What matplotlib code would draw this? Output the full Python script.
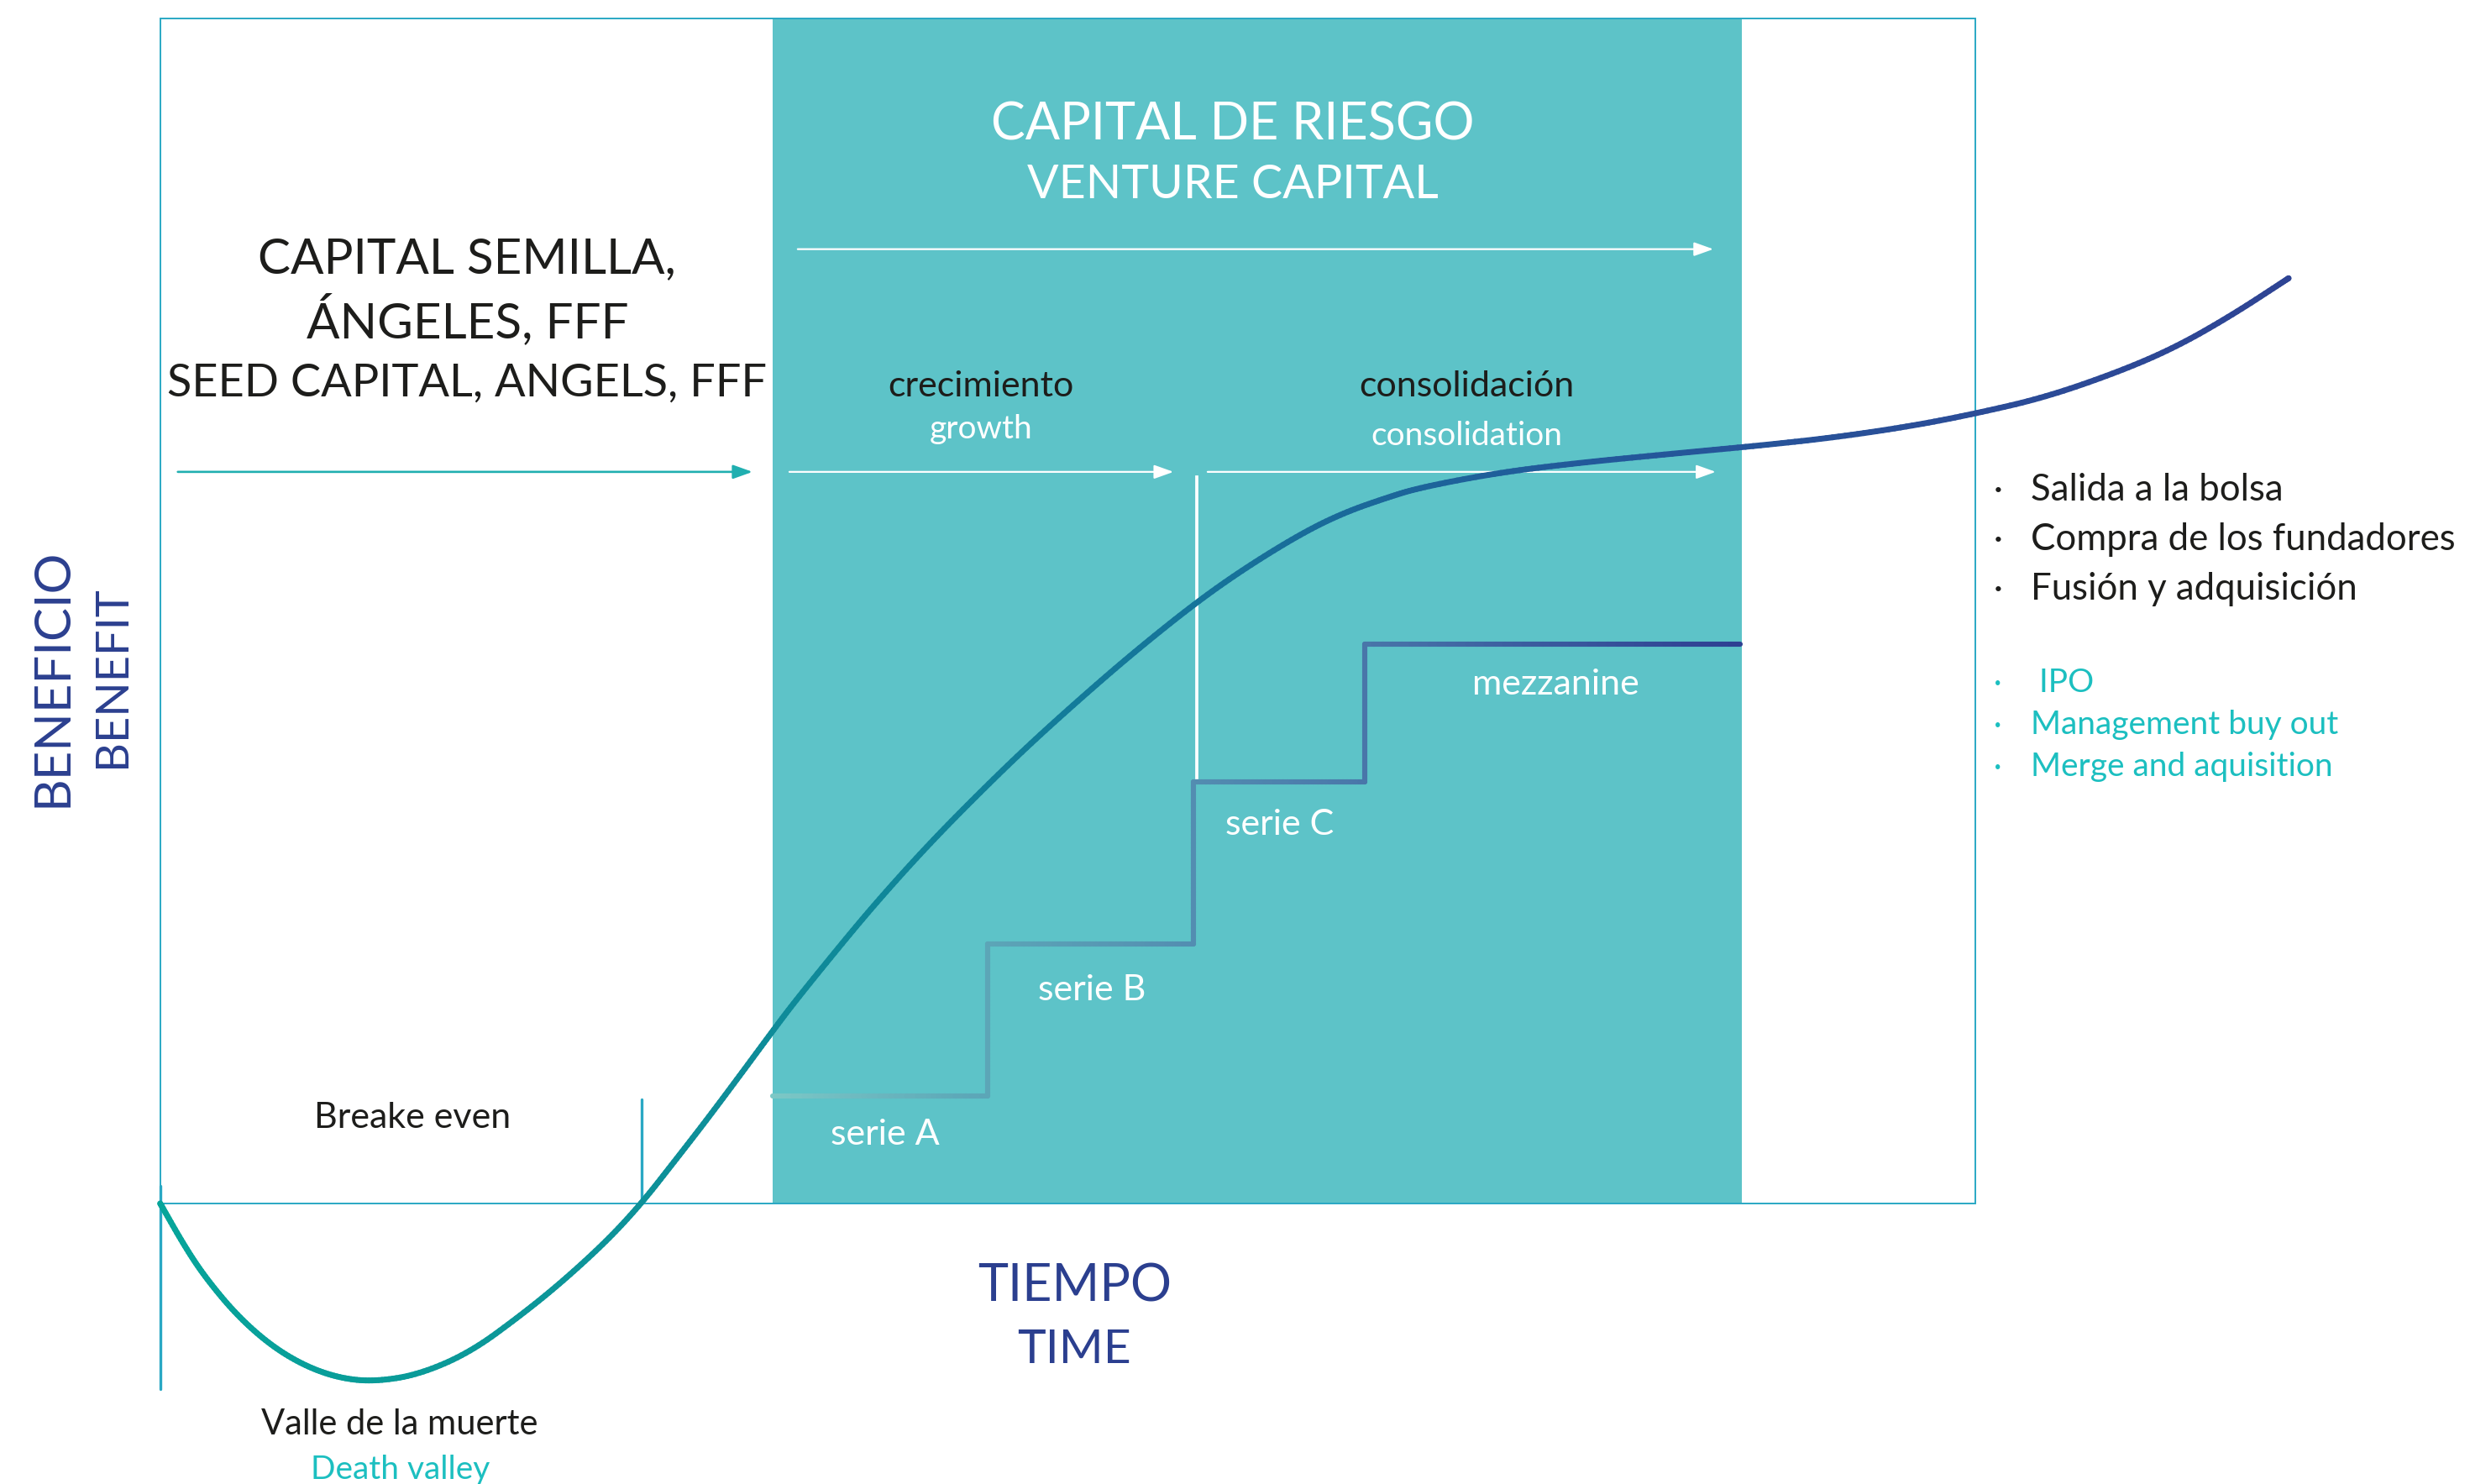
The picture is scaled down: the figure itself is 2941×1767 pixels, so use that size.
import numpy as np
import matplotlib
matplotlib.use('Agg')
import matplotlib.pyplot as plt
from matplotlib.collections import LineCollection
from matplotlib.colors import LinearSegmentedColormap
from matplotlib.patches import Rectangle

plt.rcParams['font.family'] = ['Lato', 'DejaVu Sans']

# ---- data ----
# time axis: frame goes 0..100, benefit axis: frame goes 0..100
curve_t = [0.0, 1.39, 2.53, 4.23, 6.11, 8.00, 9.89, 11.78, 14.23, 17.07, 19.90,
           22.16, 24.62, 26.51, 28.31, 30.06, 31.91, 33.73, 35.01, 37.90,
           39.76, 42.03, 44.37, 47.46, 50.55, 53.64, 57.03, 59.80, 62.89,
           65.20, 67.54, 69.38, 73.51, 77.64, 82.80, 88.33, 92.47, 96.60, 100.0,
           103.83, 107.96, 111.06, 114.15, 117.25]
curve_b = [0.0, -3.73, -6.33, -9.45, -12.00, -13.73, -14.74, -15.03, -14.45, -12.57,
           -9.40, -6.59, -3.14, 0.0, 3.51, 6.96, 10.75, 14.53, 17.13, 22.58,
           25.93, 29.78, 33.48, 38.12, 42.41, 46.50, 50.66, 53.64, 56.54,
           58.27, 59.53, 60.39, 61.60, 62.40, 63.18, 63.97, 64.67, 65.62, 66.64,
           68.00, 70.20, 72.26, 74.96, 78.06]

# funding rounds
step_t = [33.73, 45.58, 56.91, 66.34, 87.04]
step_b = [9.06, 21.88, 35.53, 47.21]
step_labels = ['serie A', 'serie B', 'serie C', 'mezzanine']

vc_start, vc_end = 33.73, 87.13
breakeven_t = 26.51

exit_es = ['Salida a la bolsa', 'Compra de los fundadores', 'Fusión y adquisición']
exit_en = [' IPO', 'Management buy out', 'Merge and aquisition']

# ---- colours ----
FRAME = '#2AA8C4'
VC_FILL = '#5DC3C8'
NAVY = '#2B3F8F'
DARK = '#1D1D1B'
TEAL_TXT = '#1CBFC0'
SEED_ARROW = '#20AFB0'

curve_cmap = LinearSegmentedColormap.from_list(
    'curve', ['#06A59A', '#0C9799', '#0F8799', '#16729A', '#22599A', '#2A4E98', '#2E4494'])
step_cmap = LinearSegmentedColormap.from_list(
    'steps', ['#7CC8C6', '#5DA8B8', '#5592B2', '#4A78AA', '#3A5A9E', '#2E3F92'])


def smooth_path(x, y, n=12):
    # quadratic b-spline drawing through the read points (midpoints on-curve)
    x = np.asarray(x, float)
    y = np.asarray(y, float)
    mx = np.r_[x[0], (x[:-1] + x[1:]) / 2, x[-1]]
    my = np.r_[y[0], (y[:-1] + y[1:]) / 2, y[-1]]
    xs, ys = [mx[0]], [my[0]]
    s = np.linspace(0, 1, n + 1)[1:]
    for i in range(len(x)):
        p0x, p0y = mx[i], my[i]
        p2x, p2y = mx[i + 1], my[i + 1]
        cx, cy = x[i], y[i]
        xs.extend((1 - s) ** 2 * p0x + 2 * (1 - s) * s * cx + s ** 2 * p2x)
        ys.extend((1 - s) ** 2 * p0y + 2 * (1 - s) * s * cy + s ** 2 * p2y)
    return np.array(xs), np.array(ys)


def gradient_line(ax, x, y, cmap, lw, z, n_sub=1):
    x = np.asarray(x, float)
    y = np.asarray(y, float)
    if n_sub > 1:
        xs, ys = [x[0]], [y[0]]
        f = np.linspace(0, 1, n_sub + 1)[1:]
        for i in range(len(x) - 1):
            xs.extend(x[i] + (x[i + 1] - x[i]) * f)
            ys.extend(y[i] + (y[i + 1] - y[i]) * f)
        x, y = np.array(xs), np.array(ys)
    pts = np.column_stack([x, y]).reshape(-1, 1, 2)
    segs = np.concatenate([pts[:-1], pts[1:]], axis=1)
    mid = (x[:-1] + x[1:]) / 2
    cols = cmap((mid - x.min()) / (x.max() - x.min()))
    lc = LineCollection(segs, colors=cols, linewidths=lw, capstyle='round',
                        joinstyle='round', zorder=z)
    ax.add_collection(lc)


def arrow(ax, t0, t1, b, color, lw=1.6):
    ax.annotate('', xy=(t1, b), xytext=(t0, b),
                arrowprops=dict(arrowstyle='-|>,head_length=0.7,head_width=0.25',
                                color=color, lw=lw, shrinkA=0, shrinkB=0,
                                mutation_scale=20), zorder=3)


def label(ax, t, b, s, color, size, **kw):
    kw.setdefault('ha', 'center')
    kw.setdefault('va', 'baseline')
    ax.text(t, b, s, color=color, fontsize=size, zorder=5, **kw)


fig = plt.figure(figsize=(29.41, 17.67), dpi=100)
ax = fig.add_axes([0, 0, 1, 1])
ax.set_xlim(-8.825, 127.24)
ax.set_ylim(-23.67, 101.53)
ax.axis('off')

# venture capital band and frame
ax.add_patch(Rectangle((vc_start, 0), vc_end - vc_start, 100, facecolor=VC_FILL,
                       edgecolor='none', zorder=1))
ax.add_patch(Rectangle((0, 0), 100, 100, facecolor='none', edgecolor=FRAME,
                       lw=1.4, zorder=2))

# ticks: origin and break even
ax.plot([0, 0], [1.45, -15.63], color=FRAME, lw=2.4, solid_capstyle='round', zorder=2)
ax.plot([breakeven_t, breakeven_t], [0, 8.76], color=FRAME, lw=2.4,
        solid_capstyle='round', zorder=2)

# arrows
arrow(ax, 0.97, 32.63, 61.72, SEED_ARROW, lw=1.9)
arrow(ax, 35.12, 85.56, 80.51, 'white')
arrow(ax, 34.66, 55.82, 61.72, 'white')
arrow(ax, 57.70, 85.69, 61.72, 'white')

# white divider between growth and consolidation
ax.plot([57.10, 57.10], [61.28, 35.95], color='white', lw=2.7, zorder=3)

# funding steps
sx, sy = [step_t[0]], [step_b[0]]
for i, lev in enumerate(step_b):
    if i > 0:
        sx.append(step_t[i])
        sy.append(lev)
    sx.append(step_t[i + 1])
    sy.append(lev)
gradient_line(ax, sx, sy, step_cmap, 4.4, 3, n_sub=40)

# benefit curve
cx, cy = smooth_path(curve_t, curve_b)
gradient_line(ax, cx, cy, curve_cmap, 5.0, 4)

# ---- texts ----
label(ax, 59.1, 89.73, 'CAPITAL DE RIESGO', 'white', 44)
label(ax, 59.1, 84.81, 'VENTURE CAPITAL', 'white', 40)

label(ax, 16.91, 78.48, 'CAPITAL SEMILLA,', DARK, 42)
label(ax, 16.91, 73.06, 'ÁNGELES, FFF', DARK, 42)
label(ax, 16.91, 68.12, 'SEED CAPITAL, ANGELS, FFF', DARK, 39)

label(ax, 45.2, 68.12, 'crecimiento', DARK, 31)
label(ax, 45.2, 64.51, 'growth', 'white', 28)
label(ax, 71.98, 68.12, 'consolidación', DARK, 31)
label(ax, 71.98, 63.98, 'consolidation', 'white', 28)

label_pos = [(39.94, 4.94), (51.33, 17.13), (61.67, 31.09), (76.87, 42.94)]
for lab, (lt, lb) in zip(step_labels, label_pos):
    label(ax, lt, lb, lab, 'white', 31)

label(ax, 13.91, 6.37, 'Breake even', DARK, 31)
label(ax, 13.19, -19.51, 'Valle de la muerte', DARK, 30)
label(ax, 13.23, -23.23, 'Death valley', TEAL_TXT, 28)

label(ax, 50.36, -8.25, 'TIEMPO', NAVY, 44)
label(ax, 50.36, -13.44, 'TIME', NAVY, 41)

label(ax, -5.95, 44.38, 'BENEFICIO', NAVY, 43, rotation=90, va='center')
label(ax, -2.65, 44.48, 'BENEFIT', NAVY, 39, rotation=90, va='center')

es_b = [59.29, 55.09, 50.92]
en_b = [43.16, 39.58, 36.04]
for txt, yb in zip(exit_es, es_b):
    label(ax, 101.24, yb, '·', DARK, 30)
    label(ax, 103.04, yb, txt, DARK, 31.5, ha='left')
for txt, yb in zip(exit_en, en_b):
    label(ax, 101.24, yb, '·', TEAL_TXT, 26)
    label(ax, 103.04, yb, txt, TEAL_TXT, 28, ha='left')

fig.savefig('out.png', dpi=100, facecolor='white')
